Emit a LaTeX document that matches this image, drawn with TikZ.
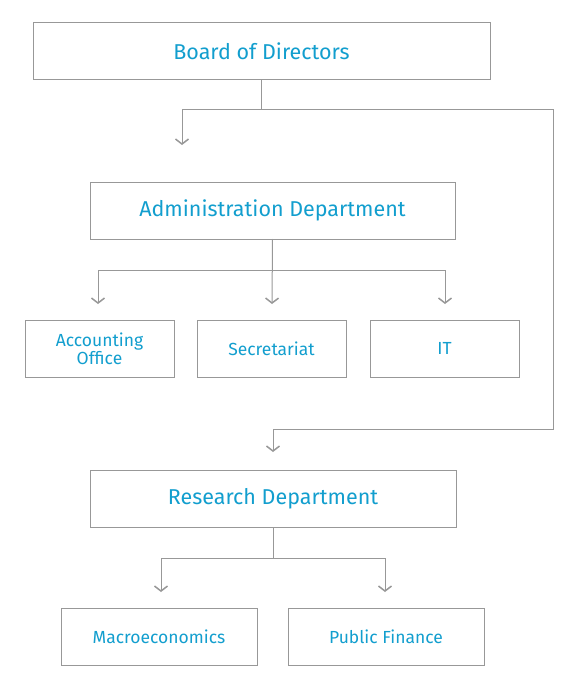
\documentclass[tikz,border=0pt]{standalone}
\usepackage{xcolor}
\usepackage{fontspec}
\setmainfont{Fira Sans}
\usepackage{tikz}
\usetikzlibrary{positioning, arrows.meta}

\definecolor{orgblue}{RGB}{18,158,206}
\definecolor{linegray}{RGB}{152,152,152}

\begin{document}
\begin{tikzpicture}[
    x=1pt, y=-1pt,
    node distance=23pt,
    box/.style={rectangle, draw=linegray, line width=1pt, outer sep=0pt, align=center, text=orgblue, font=\fontsize{17.5}{18}\selectfont},
    dept/.style={box, minimum height=57pt, font=\fontsize{21.5}{24}\selectfont},
    unit/.style={box, minimum width=149pt, minimum height=57pt},
    link/.style={draw=linegray, line width=1pt},
    arr/.style={link, -{Straight Barb[length=5pt, width=13pt, line width=1.5pt]}}
]
\useasboundingbox (0,0) rectangle (580,690);

% Departments
\node[dept, minimum width=457pt] (board) at (261.5,51.5) {Board of Directors};
\node[dept, minimum width=365pt] (admin) at (272.5,210.5) {Administration Department};
\node[dept, minimum width=366pt] (research) at (273,498.5) {Research Department};

% Offices
\node[unit] (acc) at (99.5,348.5) {Accounting\\Office};
\node[unit, right=of acc] (sec) {Secretariat};
\node[unit, right=24pt of sec] (it) {IT};
\node[unit, minimum width=196pt] (macro) at (159,636.5) {Macroeconomics};
\node[unit, minimum width=196pt, right=31pt of macro] (pubfin) {Public Finance};

% Arrow ends
\coordinate (toadmin) at (182,145);
\coordinate (toresearch) at (273,452);
\coordinate (toacc) at (98,304);
\coordinate (tosec) at (272,304);
\coordinate (toit) at (445,304);
\coordinate (tomacro) at (161,592);
\coordinate (topubfin) at (385,592);

% Connectors
\draw[arr] (board.south) -- ++(0,30) -| (toadmin);
\draw[arr] (board.south) -- ++(0,30) -| (553,429) -| (toresearch);
\draw[arr] (admin.south) -- ++(0,31) -| (toacc);
\draw[arr] (admin.south) -- (tosec);
\draw[arr] (admin.south) -- ++(0,31) -| (toit);
\draw[arr] (research.south) -- ++(0,31) -| (tomacro);
\draw[arr] (research.south) -- ++(0,31) -| (topubfin);

\end{tikzpicture}
\end{document}
